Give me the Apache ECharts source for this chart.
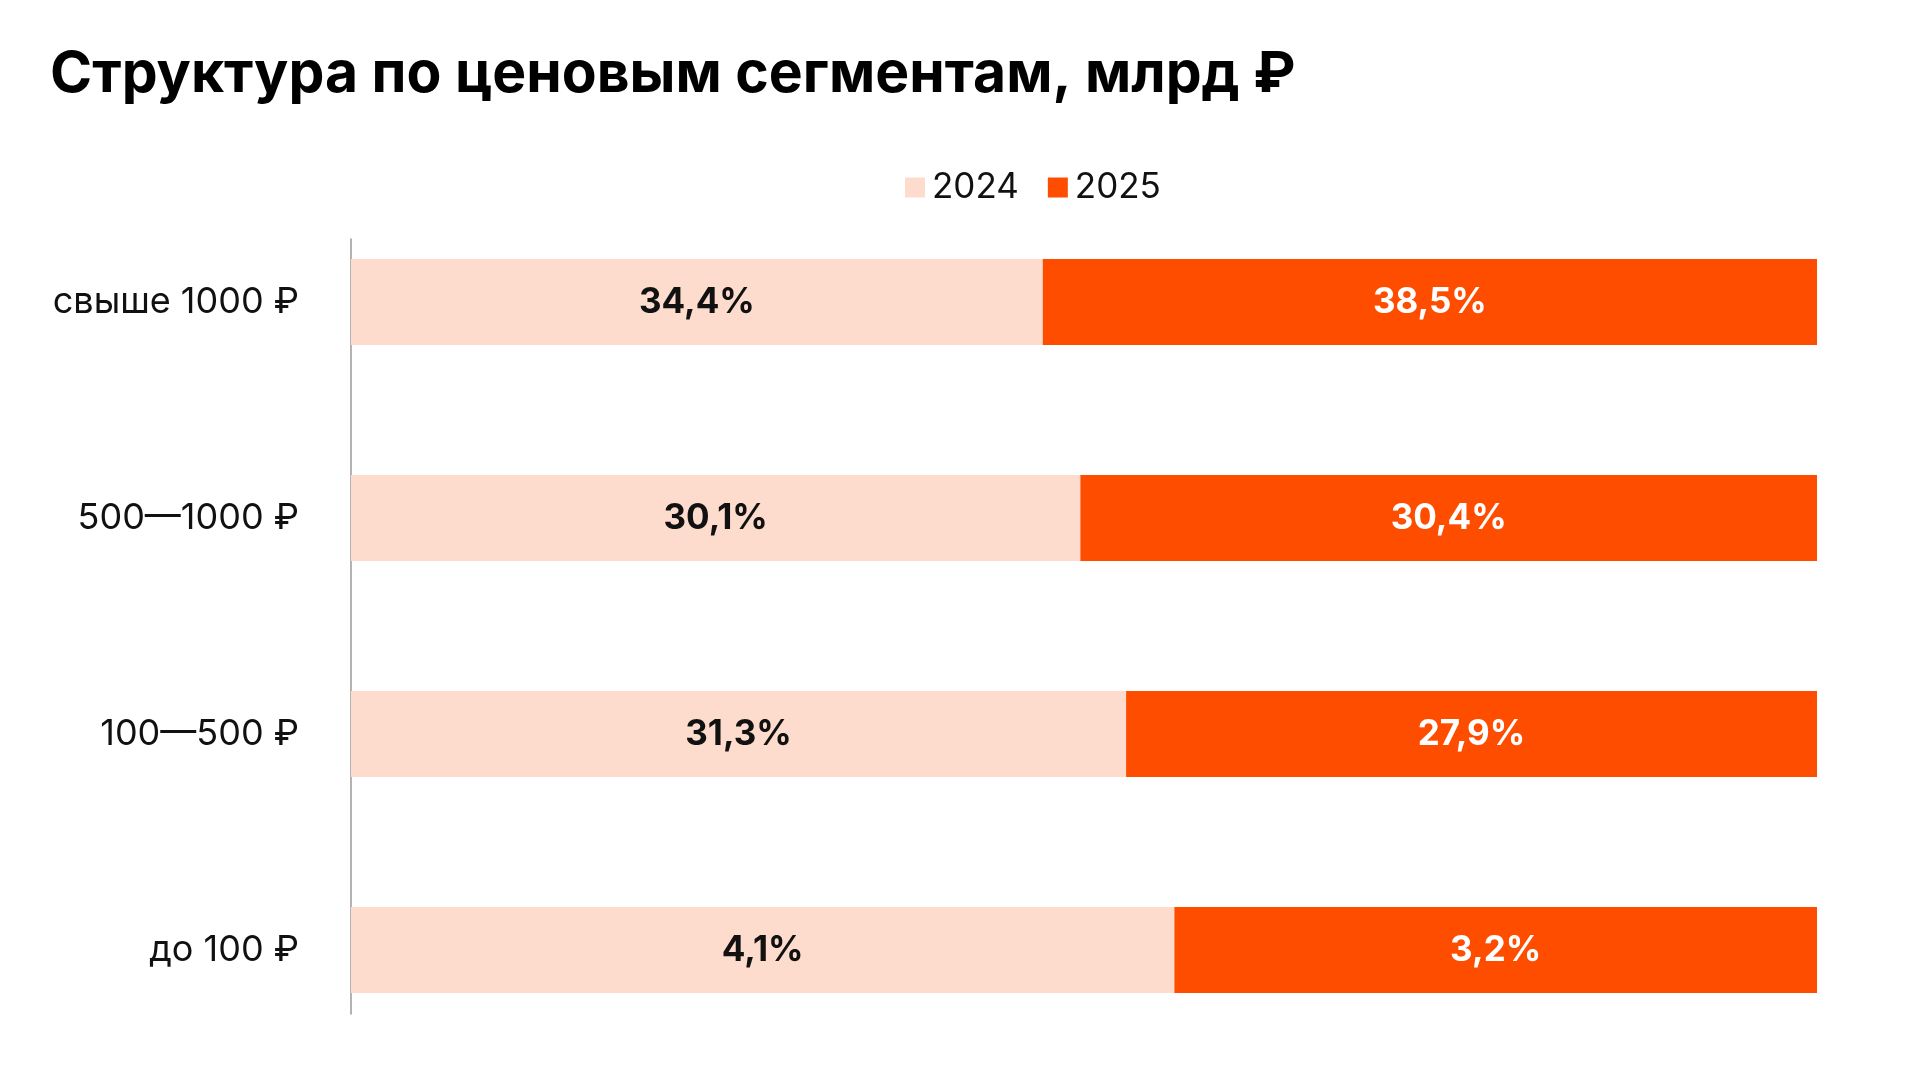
<!DOCTYPE html>
<html>
<head>
<meta charset="utf-8">
<script src="https://cdn.jsdelivr.net/npm/echarts@6/dist/echarts.min.js"></script>
<style>
  html, body { margin: 0; padding: 0; background: #fff; }
  #chart { width: 1920px; height: 1080px; }
</style>
</head>
<body>
<div id="chart"></div>
<script>
// Segments, top to bottom as shown
const segments = ['свыше 1000 ₽', '500—1000 ₽', '100—500 ₽', 'до 100 ₽'];
const years = ['2024', '2025'];
const values2024 = [34.4, 30.1, 31.3, 4.1];
const values2025 = [38.5, 30.4, 27.9, 3.2];

const COLOR_2024 = '#FEDCCD';
const COLOR_2025 = '#FF4D00';
const FONT = 'Inter, "Noto Sans", sans-serif';

// each bar is split proportionally between the two years
const share = (a, b) => a.map((v, i) => ({ value: v / (v + b[i]) * 100, raw: v }));
const fmt = v => v.toFixed(1).replace('.', ',') + '%';

const chart = echarts.init(document.getElementById('chart'));

const option = {
  backgroundColor: '#fff',
  animation: false,
  title: {
    text: 'Структура по ценовым сегментам, млрд ₽',
    left: 45,
    top: 41,
    textStyle: { fontFamily: FONT, fontSize: 57, fontWeight: 'bold', color: '#000' }
  },
  legend: {
    data: years,
    left: 900,
    top: 165,
    itemWidth: 20,
    itemHeight: 20,
    itemGap: 29,
    icon: 'rect',
    textStyle: { fontFamily: FONT, fontSize: 35, color: '#111', padding: [0, 0, 0, 2] }
  },
  grid: [
    { left: 351, right: 103, top: 194, bottom: 22 },
    { left: 351, width: 10, top: 239, bottom: 66 }
  ],
  xAxis: [
    { type: 'value', gridIndex: 0, min: 0, max: 100, show: false },
    { type: 'value', gridIndex: 1, show: false }
  ],
  yAxis: [
    {
      type: 'category',
      gridIndex: 0,
      data: segments,
      inverse: true,
      axisLine: { show: false },
      axisTick: { show: false },
      axisLabel: { fontFamily: FONT, fontSize: 36, color: '#111', margin: 52 }
    },
    {
      type: 'category',
      gridIndex: 1,
      data: segments,
      axisLine: { show: true, lineStyle: { color: '#9a9a9a', width: 1.5 } },
      axisTick: { show: false },
      axisLabel: { show: false }
    }
  ],
  series: [
    {
      name: '2024',
      type: 'bar',
      stack: 'total',
      barWidth: 86,
      data: share(values2024, values2025),
      itemStyle: { color: COLOR_2024 },
      label: {
        show: true,
        position: 'inside',
        fontFamily: FONT,
        fontSize: 35,
        fontWeight: 'bold',
        color: '#111',
        formatter: p => fmt(p.data.raw)
      }
    },
    {
      name: '2025',
      type: 'bar',
      stack: 'total',
      barWidth: 86,
      data: share(values2025, values2024),
      itemStyle: { color: COLOR_2025 },
      label: {
        show: true,
        position: 'inside',
        fontFamily: FONT,
        fontSize: 35,
        fontWeight: 'bold',
        color: '#fff',
        formatter: p => fmt(p.data.raw)
      }
    }
  ]
};

chart.setOption(option);
</script>
</body>
</html>
